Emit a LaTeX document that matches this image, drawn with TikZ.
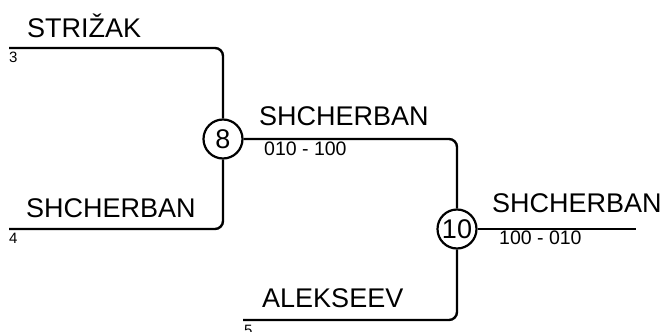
\documentclass[tikz,border=0pt]{standalone}
\usepackage{fontspec}
\setmainfont{Liberation Sans}
\begin{document}
\begin{tikzpicture}[x=1pt,y=-1pt,
  conn/.style={line width=2.4pt, rounded corners=8pt},
  pname/.style={anchor=base west, inner sep=0pt, font=\fontsize{27}{30}\selectfont},
  seedlbl/.style={anchor=base west, inner sep=0pt, font=\fontsize{15}{17}\selectfont},
  scorelbl/.style={anchor=base west, inner sep=0pt, font=\fontsize{19.5}{21}\selectfont},
  matchnode/.style={circle, draw, line width=2.2pt, minimum size=39pt, inner sep=0pt, fill=white, font=\fontsize{27}{30}\selectfont}]
\useasboundingbox (0,0) rectangle (664,332);
\coordinate (a3) at (9,48);
\coordinate (a4) at (9,229);
\coordinate (a5) at (243,320);
\coordinate (e10) at (636,229);
\node[matchnode] (m8) at (223,139) {8};
\node[matchnode] (m10) at (457,229) {10};
\draw[conn] (a3) -| (m8.north);
\draw[conn] (a4) -| (m8.south);
\draw[conn] (m8.east) -| (m10.north);
\draw[conn] (a5) -| (m10.south);
\draw[conn] (m10.east) -- (e10);
\node[pname] (n3) at (27,37) {STRIŽAK};
\node[pname] (n4) at (26,217) {SHCHERBAN};
\node[pname] (n8) at (259,125) {SHCHERBAN};
\node[pname] (n10) at (492,212) {SHCHERBAN};
\node[pname] (n5) at (262,307) {ALEKSEEV};
\node[seedlbl] (s3) at (9,62) {3};
\node[seedlbl] (s4) at (9,243) {4};
\node[seedlbl] (s5) at (244,335) {5};
\node[scorelbl] (r8) at (264,155) {010 - 100};
\node[scorelbl] (r10) at (499,244) {100 - 010};
\end{tikzpicture}
\end{document}
